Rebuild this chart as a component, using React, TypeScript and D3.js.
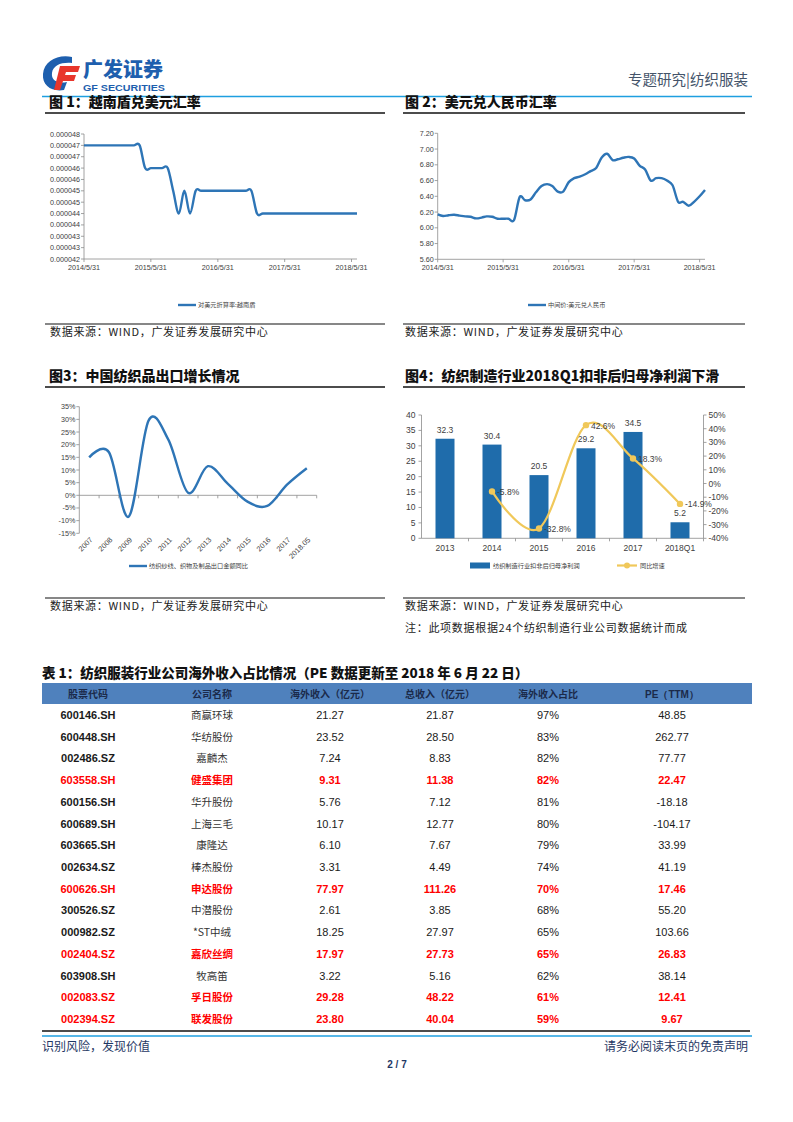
import React from "react";
import * as d3 from "d3";

// ---------- DATA ----------
const vndValues = [
  0.000047, 0.000047, 0.000047, 0.000047, 0.000047, 0.000047, 0.000047, 0.000047, 0.000047, 0.000047, 0.000047,
  0.000046, 0.000046, 0.000046, 0.000046, 0.000046,
  0.000045, 0.000044, 0.000045, 0.000044,
  0.000045, 0.000045, 0.000045, 0.000045, 0.000045, 0.000045, 0.000045, 0.000045, 0.000045, 0.000045, 0.000045,
  0.000044, 0.000044, 0.000044, 0.000044, 0.000044, 0.000044, 0.000044, 0.000044, 0.000044, 0.000044,
  0.000044, 0.000044, 0.000044, 0.000044, 0.000044, 0.000044, 0.000044, 0.000044, 0.000044,
];
const vndTickValues = [0.000042, 0.0000425, 0.000043, 0.0000435, 0.000044, 0.0000445, 0.000045, 0.0000455, 0.000046, 0.0000465, 0.000047, 0.0000475];
const vndTickLabels = ["0.000042", "0.000043", "0.000043", "0.000044", "0.000044", "0.000045", "0.000045", "0.000046", "0.000046", "0.000047", "0.000047", "0.000048"];

const cnyValues = [
  6.17, 6.15, 6.16, 6.165, 6.155, 6.145, 6.14, 6.12, 6.13, 6.145, 6.14, 6.115, 6.115, 6.115, 6.1,
  6.39, 6.35, 6.36, 6.45, 6.53, 6.555, 6.53, 6.46, 6.46, 6.58, 6.63, 6.65, 6.68, 6.72, 6.76,
  6.89, 6.94, 6.86, 6.87, 6.89, 6.9, 6.88, 6.79, 6.74, 6.6, 6.63, 6.63, 6.6, 6.54,
  6.33, 6.33, 6.28, 6.33, 6.4, 6.48,
];
const cnyTicks = [5.6, 5.8, 6.0, 6.2, 6.4, 6.6, 6.8, 7.0, 7.2];

const dateTickLabels = ["2014/5/31", "2015/5/31", "2016/5/31", "2017/5/31", "2018/5/31"];

const exportYears = ["2007", "2008", "2009", "2010", "2011", "2012", "2013", "2014", "2015", "2016", "2017", "2018.05"];
const exportGrowth = [15.0, 17.0, -8.4, 29.5, 22.0, 1.0, 11.5, 4.6, -2.5, -4.2, 4.2, 10.7];
const exportTicks = [-15, -10, -5, 0, 5, 10, 15, 20, 25, 30, 35];

const profitCats = ["2013", "2014", "2015", "2016", "2017", "2018Q1"];
const profitValues = [32.3, 30.4, 20.5, 29.2, 34.5, 5.2];
const growthValues: (number | null)[] = [null, -5.8, -32.8, 42.6, 18.3, -14.9];
const profitTicks = [0, 5, 10, 15, 20, 25, 30, 35, 40];
const growthTicks = [-40, -30, -20, -10, 0, 10, 20, 30, 40, 50];

const tableHeaders = ["股票代码", "公司名称", "海外收入（亿元）", "总收入（亿元）", "海外收入占比", "PE（TTM）"];
const codes = ["600146.SH", "600448.SH", "002486.SZ", "603558.SH", "600156.SH", "600689.SH", "603665.SH", "002634.SZ", "600626.SH", "300526.SZ", "000982.SZ", "002404.SZ", "603908.SH", "002083.SZ", "002394.SZ"];
const names = ["商赢环球", "华纺股份", "嘉麟杰", "健盛集团", "华升股份", "上海三毛", "康隆达", "棒杰股份", "申达股份", "中潜股份", "*ST中绒", "嘉欣丝绸", "牧高笛", "孚日股份", "联发股份"];
const overseasRev = ["21.27", "23.52", "7.24", "9.31", "5.76", "10.17", "6.10", "3.31", "77.97", "2.61", "18.25", "17.97", "3.22", "29.28", "23.80"];
const totalRev = ["21.87", "28.50", "8.83", "11.38", "7.12", "12.77", "7.67", "4.49", "111.26", "3.85", "27.97", "27.73", "5.16", "48.22", "40.04"];
const overseasShare = ["97%", "83%", "82%", "82%", "81%", "80%", "79%", "74%", "70%", "68%", "65%", "65%", "62%", "61%", "59%"];
const peTTM = ["48.85", "262.77", "77.77", "22.47", "-18.18", "-104.17", "33.99", "41.19", "17.46", "55.20", "103.66", "26.83", "38.14", "12.41", "9.67"];
const highlighted = [false, false, false, true, false, false, false, false, true, false, false, true, false, true, true];

// ---------- STYLE ----------
const LINE_BLUE = "#2E75B6";
const BAR_BLUE = "#1F6CAB";
const GOLD = "#F0C85A";
const AXIS = "#8C8C8C";
const TXT = "#404040";
const SANS = "'Liberation Sans', Arial, sans-serif";
const CJK = "'Noto Sans CJK SC', sans-serif";

const monthEnds = vndValues.map((_, i) => new Date(2014, 5 + i, 0));
const tickDates = dateTickLabels.map((s) => {
  const [y, m, d] = s.split("/").map(Number);
  return new Date(y, m - 1, d);
});

function TimeLineChart(props: {
  values: number[];
  x0: number; x1: number; yTop: number; yBot: number;
  yDomain: [number, number];
  ticks: number[]; tickLabels: string[];
  legend: string; legendX: number; legendY: number;
}) {
  const { values, x0, x1, yTop, yBot, yDomain, ticks, tickLabels, legend, legendX, legendY } = props;
  const x = d3.scaleTime().domain([monthEnds[0], monthEnds[monthEnds.length - 1]]).range([x0, x1]);
  const y = d3.scaleLinear().domain(yDomain).range([yBot, yTop]);
  const line = d3.line<number>().x((_, i) => x(monthEnds[i])).y((d) => y(d)).curve(d3.curveCardinal.tension(0));
  return (
    <g>
      <line x1={x0} x2={x0} y1={yTop} y2={yBot} stroke={AXIS} strokeWidth={0.8} />
      {ticks.map((t, i) => (
        <g key={i}>
          <line x1={x0 - 3} x2={x0} y1={y(t)} y2={y(t)} stroke={AXIS} strokeWidth={0.8} />
          <text x={x0 - 4} y={y(t) + 2.5} fontSize={7.2} fontFamily={SANS} fill={TXT} textAnchor="end">{tickLabels[i]}</text>
        </g>
      ))}
      <line x1={x0} x2={x1} y1={yBot} y2={yBot} stroke={AXIS} strokeWidth={0.8} />
      {tickDates.map((d, i) => (
        <g key={i}>
          <line x1={x(d)} x2={x(d)} y1={yBot} y2={yBot + 3} stroke={AXIS} strokeWidth={0.8} />
          <text x={x(d)} y={yBot + 11} fontSize={7.2} fontFamily={SANS} fill={TXT} textAnchor="middle">{dateTickLabels[i]}</text>
        </g>
      ))}
      <path d={line(values) || ""} fill="none" stroke={LINE_BLUE} strokeWidth={2.4} />
      <line x1={legendX} x2={legendX + 18} y1={legendY} y2={legendY} stroke={LINE_BLUE} strokeWidth={2.4} />
      <text x={legendX + 20} y={legendY + 2.2} fontSize={6.2} fontFamily={CJK} fill={TXT}>{legend}</text>
    </g>
  );
}

function ExportChart() {
  const x0 = 79.3, x1 = 316.7, yTop = 406.7, yBot = 533.3;
  const x = d3.scaleBand().domain(exportYears).range([x0, x1]);
  const y = d3.scaleLinear().domain([-15, 35]).range([yBot, yTop]);
  const cx = (c: string) => (x(c) as number) + x.bandwidth() / 2;
  const line = d3.line<number>().x((_, i) => cx(exportYears[i])).y((d) => y(d)).curve(d3.curveCardinal.tension(0));
  const y0 = y(0);
  return (
    <g>
      <line x1={x0} x2={x0} y1={yTop} y2={yBot} stroke={AXIS} strokeWidth={0.8} />
      {exportTicks.map((t) => (
        <g key={t}>
          <line x1={x0 - 3} x2={x0} y1={y(t)} y2={y(t)} stroke={AXIS} strokeWidth={0.8} />
          <text x={x0 - 4} y={y(t) + 2.5} fontSize={7.2} fontFamily={SANS} fill={TXT} textAnchor="end">{t + "%"}</text>
        </g>
      ))}
      <line x1={x0} x2={x1} y1={y0} y2={y0} stroke={AXIS} strokeWidth={0.8} />
      {exportYears.map((c) => (
        <line key={"t" + c} x1={(x(c) as number) + x.bandwidth()} x2={(x(c) as number) + x.bandwidth()} y1={y0} y2={y0 + 3} stroke={AXIS} strokeWidth={0.8} />
      ))}
      {exportYears.map((c) => (
        <text key={c} transform={`translate(${cx(c) + 4},${yBot + 7}) rotate(-45)`} fontSize={7.4} fontFamily={SANS} fill={TXT} textAnchor="end">{c}</text>
      ))}
      <path d={line(exportGrowth) || ""} fill="none" stroke={LINE_BLUE} strokeWidth={2.4} />
      <line x1={129} x2={147} y1={566} y2={566} stroke={LINE_BLUE} strokeWidth={2.4} />
      <text x={149} y={568.2} fontSize={6.2} fontFamily={CJK} fill={TXT}>纺织纱线、织物及制品出口金额同比</text>
    </g>
  );
}

function ProfitChart() {
  const x0 = 421.5, x1 = 703.5, yTop = 415, yBot = 538.3;
  const xc = d3.scaleBand().domain(profitCats).range([x0, x1]);
  const yL = d3.scaleLinear().domain([0, 40]).range([yBot, yTop]);
  const yR = d3.scaleLinear().domain([-40, 50]).range([yBot, yTop]);
  const cx = (c: string) => (xc(c) as number) + xc.bandwidth() / 2;
  const pts = growthValues
    .map((v, i) => ({ v, c: profitCats[i] }))
    .filter((d) => d.v !== null) as { v: number; c: string }[];
  const line = d3.line<{ v: number; c: string }>().x((d) => cx(d.c)).y((d) => yR(d.v)).curve(d3.curveCardinal.tension(0));
  return (
    <g>
      <line x1={x0} x2={x0} y1={yTop} y2={yBot} stroke={AXIS} strokeWidth={0.8} />
      <line x1={x1} x2={x1} y1={yTop} y2={yBot} stroke={AXIS} strokeWidth={0.8} />
      {profitTicks.map((t) => (
        <g key={"l" + t}>
          <line x1={x0 - 3} x2={x0} y1={yL(t)} y2={yL(t)} stroke={AXIS} strokeWidth={0.8} />
          <text x={x0 - 6} y={yL(t) + 3} fontSize={8.5} fontFamily={SANS} fill={TXT} textAnchor="end">{t}</text>
        </g>
      ))}
      {growthTicks.map((t) => (
        <g key={"r" + t}>
          <line x1={x1} x2={x1 + 3} y1={yR(t)} y2={yR(t)} stroke={AXIS} strokeWidth={0.8} />
          <text x={x1 + 5} y={yR(t) + 3} fontSize={8.5} fontFamily={SANS} fill={TXT} textAnchor="start">{t + "%"}</text>
        </g>
      ))}
      <line x1={x0} x2={x1} y1={yBot} y2={yBot} stroke={AXIS} strokeWidth={0.8} />
      {profitCats.map((c, i) => (
        <g key={c}>
          <line x1={(xc(c) as number) + xc.bandwidth()} x2={(xc(c) as number) + xc.bandwidth()} y1={yBot} y2={yBot + 3} stroke={AXIS} strokeWidth={0.8} />
          <rect x={cx(c) - 9.5} width={19} y={yL(profitValues[i])} height={yBot - yL(profitValues[i])} fill={BAR_BLUE} />
          <text x={cx(c)} y={yL(profitValues[i]) - 6} fontSize={8.5} fontFamily={SANS} fill={TXT} textAnchor="middle">{profitValues[i].toFixed(1)}</text>
          <text x={cx(c)} y={yBot + 13} fontSize={8.5} fontFamily={SANS} fill={TXT} textAnchor="middle">{c}</text>
        </g>
      ))}
      <path d={line(pts) || ""} fill="none" stroke={GOLD} strokeWidth={2.2} />
      {pts.map((d) => (
        <g key={"p" + d.c}>
          <circle cx={cx(d.c)} cy={yR(d.v)} r={3.2} fill={GOLD} />
          <text x={cx(d.c) + 5} y={yR(d.v) + 3.5} fontSize={8.5} fontFamily={SANS} fill={TXT}>{d.v.toFixed(1) + "%"}</text>
        </g>
      ))}
      <rect x={470} y={562.5} width={20} height={6} fill={BAR_BLUE} />
      <text x={493} y={568.3} fontSize={6.2} fontFamily={CJK} fill={TXT}>纺织制造行业扣非后归母净利润</text>
      <line x1={617} x2={637} y1={565.5} y2={565.5} stroke={GOLD} strokeWidth={2.2} />
      <circle cx={627} cy={565.5} r={3} fill={GOLD} />
      <text x={640} y={568.3} fontSize={6.2} fontFamily={CJK} fill={TXT}>同比增速</text>
    </g>
  );
}

function ChartTitle(props: { x: number; y: number; x1: number; x2: number; text: string }) {
  return (
    <g>
      <text x={props.x} y={props.y} fontSize={14} fontWeight={900} fontFamily={CJK} fill="#111">{props.text}</text>
      <line x1={props.x1} x2={props.x2} y1={props.y + 6} y2={props.y + 6} stroke="#111" strokeWidth={1.5} />
    </g>
  );
}

function Source(props: { x: number; y: number; x1: number; x2: number }) {
  return (
    <g>
      <line x1={props.x1} x2={props.x2} y1={props.y - 12} y2={props.y - 12} stroke="#111" strokeWidth={1.2} />
      <text x={props.x} y={props.y} fontSize={11} letterSpacing={0.7} fontFamily={CJK} fill="#222">数据来源：WIND，广发证券发展研究中心</text>
    </g>
  );
}

function Table() {
  const cols = [88, 212, 330, 440, 548, 672];
  const rowY = d3.scaleLinear().domain([0, codes.length - 1]).range([715, 1019]);
  return (
    <g>
      <text x={42} y={678} fontSize={13.5} fontWeight={900} fontFamily={CJK} fill="#111">表 1：纺织服装行业公司海外收入占比情况（PE 数据更新至 2018 年 6 月 22 日）</text>
      <rect x={42} y={683} width={710} height={21} fill="#4F81BD" />
      {tableHeaders.map((h, i) => (
        <text key={h} x={cols[i]} y={697.5} fontSize={10} fontWeight={700} fontFamily={i === 5 ? SANS : CJK} fill="#1B2A4A" textAnchor="middle">{h}</text>
      ))}
      {codes.map((c, r) => {
        const hl = highlighted[r];
        const col = hl ? "#FF0000" : "#1a1a1a";
        const yy = rowY(r) + 4;
        const cells = [c, names[r], overseasRev[r], totalRev[r], overseasShare[r], peTTM[r]];
        return (
          <g key={c}>
            {cells.map((v, i) => (
              <text key={i} x={cols[i]} y={yy} fontSize={i === 1 ? 10.5 : 11} fontWeight={i === 0 || hl ? 700 : 400}
                fontFamily={i === 1 ? CJK : SANS} fill={i === 1 && !hl ? "#333" : col} textAnchor="middle">{v}</text>
            ))}
          </g>
        );
      })}
      <line x1={42} x2={750} y1={1031} y2={1031} stroke="#111" strokeWidth={1.3} />
    </g>
  );
}

export default function App() {
  return (
    <div style={{ position: "absolute", left: 0, top: 0 }}>
      <svg width={793} height={1122} viewBox="0 0 793 1122" style={{ display: "block", background: "#fff" }}>
        {/* Header logo */}
        <g>
          <path d="M72 57 C58 54 44 61 43 74 C42 86 52 92 64 90 L67 82 C57 84 51 80 52 73 C53 65 62 62 72 63 Z" fill="#1E5FAE" />
          <path d="M60 66 L80 66 L78 72 L66 72 L65 75 L76 75 L74 81 L63 81 L60 90 L54 90 Z" fill="#E8362C" />
          <text x={83} y={77} fontSize={20} fontWeight={900} fontFamily={CJK} fill="#1E5FAE">广发证券</text>
          <text x={83} y={90.5} fontSize={8.6} fontWeight={700} fontFamily={SANS} fill="#1E5FAE" textLength={82} lengthAdjust="spacingAndGlyphs">GF SECURITIES</text>
        </g>
        <text x={748} y={85} fontSize={14.5} fontFamily={CJK} fill="#44546A" textAnchor="end">专题研究|纺织服装</text>
        <line x1={42} x2={752} y1={96.5} y2={96.5} stroke="#1E9FE0" strokeWidth={1.6} />

        <ChartTitle x={49} y={107} x1={45} x2={385} text="图 1：越南盾兑美元汇率" />
        <ChartTitle x={405} y={107} x1={403} x2={745} text="图 2：美元兑人民币汇率" />

        <TimeLineChart values={vndValues} x0={84} x1={357} yTop={134} yBot={259} yDomain={[0.000042, 0.0000475]}
          ticks={vndTickValues} tickLabels={vndTickLabels} legend="对美元折算率:越南盾" legendX={178} legendY={305} />
        <TimeLineChart values={cnyValues} x0={437.7} x1={705} yTop={133.3} yBot={259.3} yDomain={[5.6, 7.2]}
          ticks={cnyTicks} tickLabels={cnyTicks.map((t) => t.toFixed(2))} legend="中间价:美元兑人民币" legendX={528} legendY={305} />

        <Source x={50} y={336} x1={45} x2={385} />
        <Source x={405} y={336} x1={403} x2={745} />

        <ChartTitle x={49} y={381} x1={45} x2={385} text="图3：中国纺织品出口增长情况" />
        <ChartTitle x={405} y={381} x1={403} x2={745} text="图4：纺织制造行业2018Q1扣非后归母净利润下滑" />

        <ExportChart />
        <ProfitChart />

        <Source x={50} y={610} x1={45} x2={385} />
        <Source x={405} y={610} x1={403} x2={745} />
        <text x={405} y={632} fontSize={11} letterSpacing={0.7} fontFamily={CJK} fill="#222">注：此项数据根据24个纺织制造行业公司数据统计而成</text>

        <Table />

        <line x1={42} x2={752} y1={1036} y2={1036} stroke="#1E9FE0" strokeWidth={1.6} />
        <text x={42} y={1051} fontSize={12} fontFamily={CJK} fill="#1F3864">识别风险，发现价值</text>
        <text x={748} y={1051} fontSize={12} fontFamily={CJK} fill="#1F3864" textAnchor="end">请务必阅读末页的免责声明</text>
        <text x={397} y={1068} fontSize={10} fontWeight={700} fontFamily={SANS} fill="#1F3864" textAnchor="middle">2 / 7</text>
      </svg>
    </div>
  );
}
